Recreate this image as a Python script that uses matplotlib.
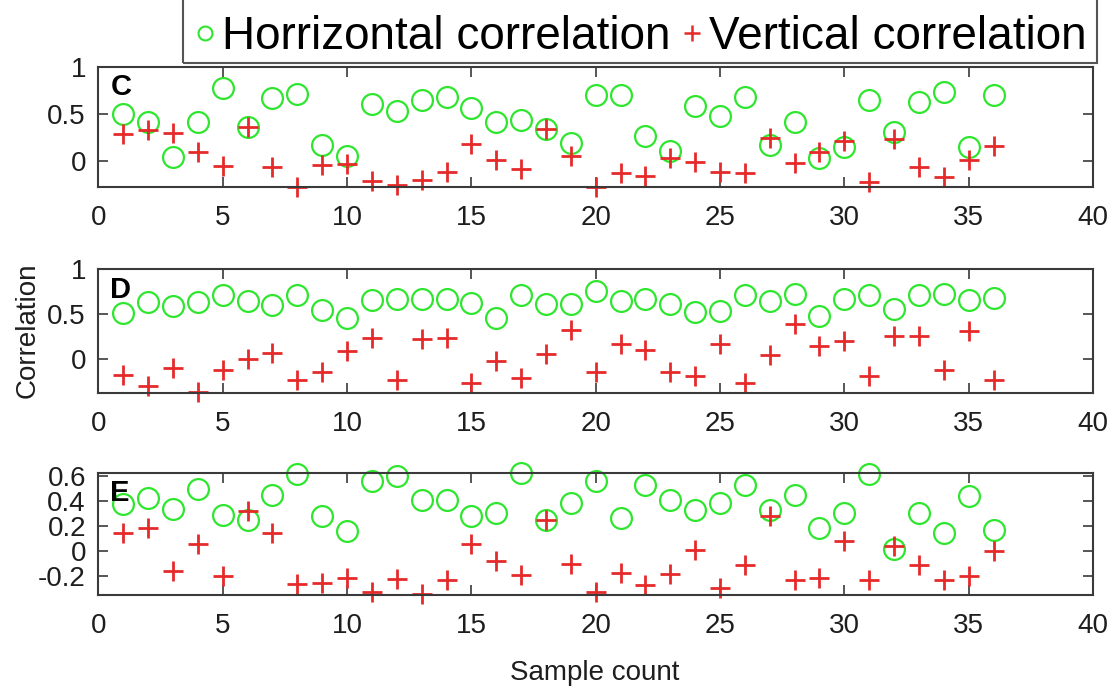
import matplotlib
matplotlib.use('Agg')
import matplotlib.pyplot as plt
from matplotlib.lines import Line2D
from matplotlib.patches import Rectangle

samples = list(range(1, 37))

c_horiz = [0.50, 0.42, 0.045, 0.41, 0.77, 0.36, 0.67, 0.71, 0.17, 0.06,
           0.61, 0.53, 0.65, 0.68, 0.56, 0.41, 0.44, 0.34, 0.19, 0.70,
           0.70, 0.27, 0.11, 0.58, 0.48, 0.68, 0.17, 0.42, 0.03, 0.15,
           0.65, 0.31, 0.63, 0.73, 0.15, 0.70]
c_vert = [0.29, 0.33, 0.30, 0.10, -0.05, 0.36, -0.06, -0.27, -0.04, -0.03,
          -0.21, -0.25, -0.20, -0.11, 0.18, 0.01, -0.08, 0.34, 0.06, -0.27,
          -0.13, -0.16, 0.03, -0.01, -0.11, -0.13, 0.25, -0.02, 0.10, 0.21,
          -0.22, 0.23, -0.06, -0.17, 0.01, 0.16]

d_horiz = [0.51, 0.64, 0.59, 0.64, 0.71, 0.65, 0.60, 0.71, 0.55, 0.46,
           0.66, 0.67, 0.67, 0.67, 0.63, 0.46, 0.71, 0.61, 0.61, 0.76,
           0.65, 0.67, 0.61, 0.52, 0.54, 0.71, 0.65, 0.73, 0.48, 0.67,
           0.71, 0.56, 0.71, 0.73, 0.66, 0.68]
d_vert = [-0.18, -0.30, -0.10, -0.37, -0.12, 0.00, 0.07, -0.23, -0.14, 0.09,
          0.23, -0.23, 0.22, 0.23, -0.27, -0.02, -0.21, 0.06, 0.33, -0.14,
          0.17, 0.10, -0.14, -0.19, 0.17, -0.27, 0.05, 0.39, 0.15, 0.20,
          -0.19, 0.26, 0.26, -0.12, 0.31, -0.23]

e_horiz = [0.38, 0.43, 0.34, 0.50, 0.29, 0.25, 0.45, 0.62, 0.28, 0.16,
           0.56, 0.60, 0.41, 0.41, 0.28, 0.31, 0.63, 0.25, 0.39, 0.56,
           0.27, 0.53, 0.41, 0.33, 0.39, 0.53, 0.33, 0.45, 0.19, 0.31,
           0.62, 0.02, 0.31, 0.15, 0.44, 0.17]
e_vert = [0.15, 0.19, -0.16, 0.06, -0.20, 0.32, 0.15, -0.26, -0.25, -0.21,
          -0.33, -0.22, -0.34, -0.23, 0.06, -0.08, -0.19, 0.25, -0.10, -0.33,
          -0.17, -0.27, -0.18, 0.01, -0.29, -0.11, 0.28, -0.23, -0.21, 0.08,
          -0.23, 0.04, -0.11, -0.23, -0.20, 0.00]

panel_names = ['C', 'D', 'E']
panel_ylims = [(-0.27, 1.0), (-0.38, 1.0), (-0.35, 0.63)]
panel_yticks = [[0, 0.5, 1], [0, 0.5, 1], [-0.2, 0, 0.2, 0.4, 0.6]]
panel_yticklabels = [['0', '0.5', '1'], ['0', '0.5', '1'],
                     ['-0.2', '0', '0.2', '0.4', '0.6']]
xticks = [0, 5, 10, 15, 20, 25, 30, 35, 40]
legend_labels = ['Horrizontal correlation', 'Vertical correlation']

green = '#2ee62e'
red = '#e62a2a'
axis_col = '#3a3a3a'
text_col = '#1e1e1e'

plt.rcParams['font.family'] = ['Liberation Sans', 'DejaVu Sans']

fig = plt.figure(figsize=(11.11, 6.9), dpi=100)

# axes boxes in figure fractions: left, bottom, width, height
boxes = [[0.0886, 0.7294, 0.8952, 0.1739],
         [0.0886, 0.4300, 0.8952, 0.1797],
         [0.0886, 0.1377, 0.8952, 0.1772]]

series = [(c_horiz, c_vert), (d_horiz, d_vert), (e_horiz, e_vert)]

for i in range(3):
	ax = fig.add_axes(boxes[i])
	h, v = series[i]
	# markers are not clipped at the box, like the original
	ax.plot(samples, h, linestyle='none', marker='o', markersize=15,
	        markerfacecolor='none', markeredgecolor=green, markeredgewidth=1.6,
	        clip_on=False)
	ax.plot(samples, v, linestyle='none', marker='+', markersize=15,
	        color=red, markeredgewidth=2.0, clip_on=False)
	ax.set_xlim(0, 40)
	ax.set_ylim(panel_ylims[i])
	ax.set_xticks(xticks)
	ax.set_yticks(panel_yticks[i])
	ax.set_yticklabels(panel_yticklabels[i])
	ax.tick_params(direction='in', length=7, width=1.2, color=axis_col,
	               top=True, right=True, labelsize=20, labelcolor=text_col)
	ax.tick_params(axis='x', pad=13)
	ax.tick_params(axis='y', pad=9)
	for s in ax.spines.values():
		s.set_color(axis_col)
		s.set_linewidth(1.5)
	ax.text(0.012, 0.95, panel_names[i], transform=ax.transAxes,
	        fontsize=21, fontweight='bold', va='top', ha='left', color='black')

fig.text(0.025, 0.522, 'Correlation', rotation=90, fontsize=20,
         ha='center', va='center', color=text_col)
fig.text(0.535, 0.024, 'Sample count', fontsize=20, ha='center', va='center',
         color=text_col)

# legend box, top edge runs off the figure
fig.patches.append(Rectangle((0.1647, 0.9087), 0.8223, 0.2,
                             transform=fig.transFigure, fill=False,
                             edgecolor='#555555', linewidth=1.5))

handles = [Line2D([], [], linestyle='none', marker='o', markersize=10,
                  markerfacecolor='none', markeredgecolor=green,
                  markeredgewidth=1.5),
           Line2D([], [], linestyle='none', marker='+', markersize=12,
                  color=red, markeredgewidth=1.8)]
fig.legend(handles, legend_labels,
           loc='center left', bbox_to_anchor=(0.1746, 0.946), ncol=2,
           frameon=False, handlelength=0.5, handletextpad=0.12,
           columnspacing=0.22, borderpad=0, borderaxespad=0,
           prop={'size': 33})

fig.savefig('out.png', dpi=100)
